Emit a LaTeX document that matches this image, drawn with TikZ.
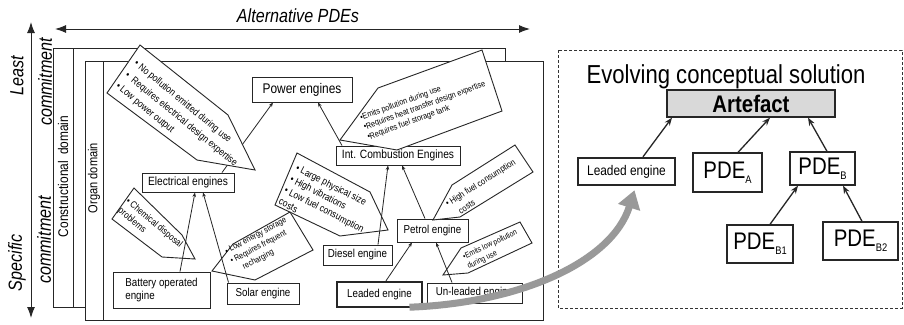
\documentclass[tikz,border=0pt]{standalone}
\usepackage{fontspec}
\setmainfont{Liberation Sans}[FakeStretch=0.85]
\usetikzlibrary{arrows.meta,calc}
\newcommand\pdesub[1]{\raisebox{-5pt}{\fontsize{11}{11}\selectfont #1}}
\begin{document}
\begin{tikzpicture}[x=1pt,y=-1pt,
  frame/.style={draw=black!85, fill=white, line width=0.9pt},
  ebox/.style={draw=black!85, fill=white, line width=0.9pt, inner sep=0pt, align=center, font=\fontsize{11.5}{13}\selectfont},
  thickbox/.style={ebox, line width=2.4pt},
  callout/.style={draw=black!85, fill=white, line width=0.9pt, line join=miter},
  ctext/.style={inner sep=0pt, align=left, anchor=west},
  conn/.style={draw=black!85, line width=0.8pt, -{Stealth[length=4.5pt,width=3.5pt]}},
  rconn/.style={draw=black!85, line width=1.3pt, -{Stealth[length=8pt,width=6pt]}},
  pbox/.style={draw=black!85, fill=white, line width=1.3pt, inner sep=0pt, font=\fontsize{24}{26}\selectfont},
  axisarrow/.style={draw=black!85, line width=1pt, {Latex[length=11pt,width=8pt]}-{Latex[length=11pt,width=8pt]}},
  slabel/.style={font=\fontsize{19}{21}\selectfont\itshape, inner sep=0pt}
]
\fill[white] (0,0) rectangle (904,324);
\useasboundingbox (0,0) rectangle (904,324);

% axes
\coordinate (vtop) at (31,22);
\coordinate (vbot) at (31,318);
\coordinate (hleft) at (55,29);
\coordinate (hright) at (530,29);
\draw[axisarrow] (vtop) -- (vbot);
\draw[axisarrow] (hleft) -- (hright);
\node[slabel, anchor=base] (altpde) at (298,23) {Alternative PDEs};
\node[slabel, rotate=90] (least) at (17,76) {Least};
\node[slabel, rotate=90] (commit1) at (45,82) {commitment};
\node[slabel, rotate=90] (specific) at (17,263) {Specific};
\node[slabel, rotate=90] (commit2) at (44,240) {commitment};

% frames
\draw[frame] (53,48) rectangle (505,307);
\draw[frame] (73,48) -- (73,307);
\node[rotate=90, inner sep=0pt, font=\fontsize{14}{16}\selectfont] (cdom) at (63,176.5) {Constructional\hspace{6pt}domain};
\draw[frame] (85,61) rectangle (543,320);
\draw[frame] (103,61) -- (103,320);
\node[rotate=90, inner sep=0pt, font=\fontsize{13}{15}\selectfont] (odom) at (94,178) {Organ domain};

% left boxes
\node[ebox, font=\fontsize{14}{16}\selectfont, minimum width=100pt, minimum height=25pt] (pow) at (302,89.5) {Power engines};
\node[ebox, font=\fontsize{12}{14}\selectfont, minimum width=92pt, minimum height=19pt] (elec) at (188,182.5) {Electrical engines};
\node[ebox, font=\fontsize{12}{14}\selectfont, minimum width=124pt, minimum height=19pt] (ice) at (398,155.5) {Int. Combustion Engines};
\node[ebox, align=left, minimum width=97pt, minimum height=36pt] (batt) at (161.5,290) {Battery operated\\engine};
\node[ebox, minimum width=72pt, minimum height=21pt] (solar) at (263,293.5) {Solar engine};
\node[ebox, minimum width=69pt, minimum height=20pt] (diesel) at (357.5,255) {Diesel engine};
\node[ebox, minimum width=71pt, minimum height=23pt] (petrol) at (432.5,230.5) {Petrol engine};
\node[thickbox, minimum width=85pt, minimum height=25pt] (leadL) at (379.5,294.5) {Leaded engine};
\node[ebox, minimum width=95pt, minimum height=20pt] (unlead) at (474.5,293) {Un-leaded engine};

% callouts (behind connectors)
\draw[callout] (482,50) -- (502,111) -- (397,150) -- (340,140) -- (378,88) -- cycle;
\node[ctext, rotate=20, font=\fontsize{8.5}{10.5}\selectfont] (c2t) at (364,128) {•Emits pollution during use\\•Requires heat transfer design expertise\\•Requires fuel storage tank};
\draw[callout] (297,153) -- (370,192) -- (388,230) -- (340,236) -- (275,205) -- cycle;
\node[ctext, rotate=-27, font=\fontsize{10}{12.5}\selectfont] (c3t) at (288,184) {• Large physical size\\• High vibrations\\• Low fuel consumption\\costs};
\draw[callout] (515,145) -- (533,172) -- (460,217) -- (433,220) -- (452,185) -- cycle;
\node[ctext, rotate=32, font=\fontsize{9}{13}\selectfont] (c4t) at (449.5,209.7) {• High fuel consumption\\\hspace{7pt}costs};
\draw[callout] (520,222) -- (532,243) -- (468,273) -- (443,275) -- (461,248) -- cycle;
\node[ctext, rotate=25, font=\fontsize{8}{10.5}\selectfont] (c5t) at (465.6,262.1) {•Emits low pollution\\during use};
\draw[callout] (134,188) -- (182,235) -- (195,259) -- (162,257) -- (112,219) -- cycle;
\node[ctext, rotate=-40, font=\fontsize{9.5}{12}\selectfont] (c6t) at (123,205) {• Chemical disposal\\problems};
\draw[callout] (290,212) -- (313,250) -- (255,280) -- (212,271) -- (233,244) -- cycle;
\node[ctext, rotate=28, font=\fontsize{8.5}{11}\selectfont] (c7t) at (231,262) {• Low energy storage\\• Requires frequent\\\hspace{8pt}recharging};

% left connectors
\draw[conn] ([xshift=34pt]elec.north) -- ([xshift=-29pt]pow.south);
\draw[conn] ([xshift=-56pt]ice.north) -- ([xshift=16pt]pow.south);
\draw[conn] ([xshift=18.5pt]batt.north) -- ([xshift=7pt]elec.south);
\draw[conn] ([xshift=2pt]solar.north west) -- ([xshift=15pt]elec.south);
\draw[conn] ([xshift=20.5pt]diesel.north) -- ([xshift=-10pt]ice.south);
\draw[conn] ([xshift=-7.5pt]petrol.north) -- ([xshift=4pt]ice.south);
\draw[conn] ([xshift=6.5pt]leadL.north) -- ([xshift=-20.5pt]petrol.south);
\draw[conn] ([xshift=-22.5pt]unlead.north) -- ([xshift=3.5pt]petrol.south);

% callout C1 (covers the electrical->power connector)
\draw[callout] (140,45) -- (228,115) -- (255,170) -- (197,160) -- (107,93) -- cycle;
\node[ctext, rotate=-39.5, font=\fontsize{10}{14.5}\selectfont] (c1t) at (126,74) {• No pollution emitted during use\\•\hspace{5pt}Requires electrical design expertise\\• Low power output};

% right panel
\draw[draw=black!80, line width=1pt, dash pattern=on 3pt off 2pt] (558,50) rectangle (902,308);
\node[anchor=base, inner sep=0pt, font=\fontsize{26}{28}\selectfont] (title) at (726,83) {Evolving conceptual solution};
\node[pbox, fill=black!15, font=\fontsize{24}{26}\selectfont\bfseries, minimum width=168pt, minimum height=27pt] (art) at (751,103.5) {Artefact};
\node[pbox, line width=2.4pt, font=\fontsize{14}{16}\selectfont, minimum width=97pt, minimum height=27pt] (leadR) at (626.5,171.5) {Leaded engine};
\node[pbox, minimum width=69pt, minimum height=39pt] (pdea) at (727.5,172.5) {PDE\pdesub{A}};
\node[pbox, minimum width=65pt, minimum height=33pt] (pdeb) at (822.5,168.5) {PDE\pdesub{B}};
\node[pbox, minimum width=66pt, minimum height=38pt] (pdeb1) at (760,244) {PDE\pdesub{B1}};
\node[pbox, minimum width=75pt, minimum height=38pt] (pdeb2) at (860.5,241) {PDE\pdesub{B2}};

\draw[rconn] ([xshift=16.5pt]leadR.north) -- ([xshift=-79pt]art.south);
\draw[rconn] ([xshift=10.5pt]pdea.north) -- ([xshift=19pt]art.south);
\draw[rconn] ([xshift=4.5pt]pdeb.north) -- ([xshift=57pt]art.south);
\draw[rconn] ([xshift=10pt]pdeb1.north) -- ([xshift=-24.5pt]pdeb.south);
\draw[rconn] ([xshift=1.5pt]pdeb2.north) -- ([xshift=20.5pt]pdeb.south);

% grey transfer arrow
\draw[line width=7pt, draw=black!40, -{Triangle[length=18pt,width=22pt]}]
  ([xshift=30pt,yshift=1pt]leadL.south) .. controls (520,303) and (612,262) .. ([xshift=8pt,yshift=-4pt]leadR.south);
\end{tikzpicture}
\end{document}
